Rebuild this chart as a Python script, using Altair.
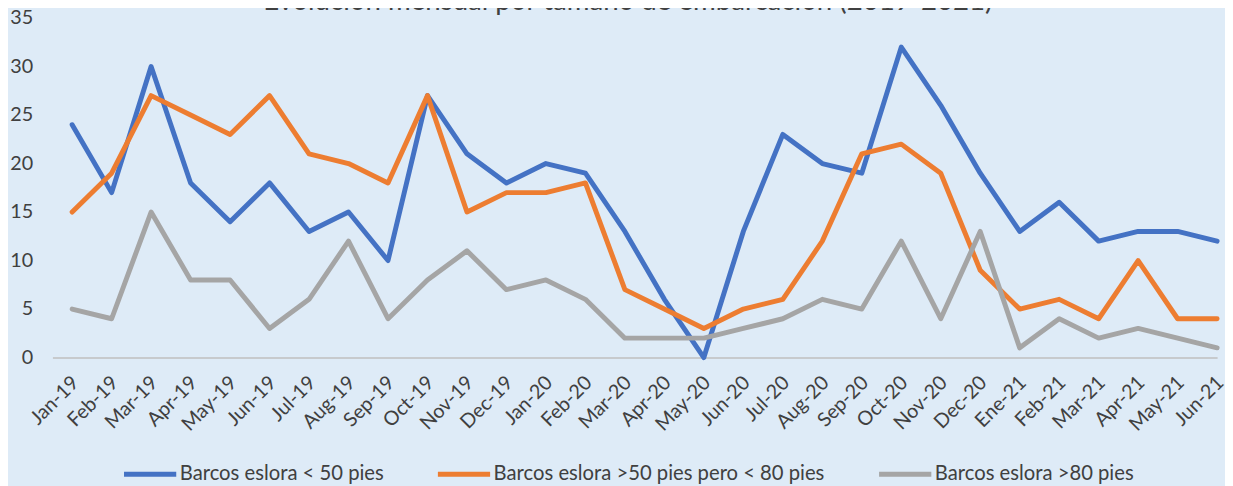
import altair as alt
import pandas as pd

months = ["Jan-19", "Feb-19", "Mar-19", "Apr-19", "May-19", "Jun-19", "Jul-19", "Aug-19",
          "Sep-19", "Oct-19", "Nov-19", "Dec-19", "Jan-20", "Feb-20", "Mar-20", "Apr-20",
          "May-20", "Jun-20", "Jul-20", "Aug-20", "Sep-20", "Oct-20", "Nov-20", "Dec-20",
          "Ene-21", "Feb-21", "Mar-21", "Apr-21", "May-21", "Jun-21"]
series_names = ["Barcos eslora < 50 pies",
                "Barcos eslora >50 pies pero < 80 pies",
                "Barcos eslora >80 pies"]
small = [24, 17, 30, 18, 14, 18, 13, 15, 10, 27, 21, 18, 20, 19, 13, 6, 0, 13, 23, 20,
         19, 32, 26, 19, 13, 16, 12, 13, 13, 12]
medium = [15, 19, 27, 25, 23, 27, 21, 20, 18, 27, 15, 17, 17, 18, 7, 5, 3, 5, 6, 12,
          21, 22, 19, 9, 5, 6, 4, 10, 4, 4]
large = [5, 4, 15, 8, 8, 3, 6, 12, 4, 8, 11, 7, 8, 6, 2, 2, 2, 3, 4, 6,
         5, 12, 4, 13, 1, 4, 2, 3, 2, 1]
colors = ["#4472C4", "#ED7D31", "#A5A5A5"]
y_ticks = [0, 5, 10, 15, 20, 25, 30, 35]
title_text = "Evolución mensual por tamaño de embarcación (2019-2021)"

rows = []
for name, vals in zip(series_names, [small, medium, large]):
    for i, (m, v) in enumerate(zip(months, vals)):
        rows.append({"serie": name, "idx": i, "mes": m, "valor": v})
df = pd.DataFrame(rows)
title_df = pd.DataFrame({"titulo": [title_text]})

label_expr = "[" + ",".join("'" + m + "'" for m in months) + "][datum.value]"
FONT = "Lato"
TXT = "#404040"

lines = alt.Chart(df).mark_line(strokeWidth=5, strokeJoin="round", strokeCap="round").encode(
    x=alt.X("idx:Q",
            scale=alt.Scale(domain=[-0.5, 29.0], nice=False, zero=False),
            axis=alt.Axis(values=list(range(len(months))), labelExpr=label_expr,
                          labelAngle=-45, title=None, grid=False, ticks=False,
                          labelOverlap=False, labelFlush=False, labelOffset=-4,
                          domainColor="#BFBFBF", domainWidth=1.5,
                          labelFontSize=20, labelFont=FONT, labelColor=TXT,
                          labelPadding=15)),
    y=alt.Y("valor:Q",
            scale=alt.Scale(domain=[0, 35], nice=False),
            axis=alt.Axis(values=y_ticks, title=None, grid=False, ticks=False,
                          domain=False, labelFontSize=20, labelFont=FONT,
                          labelColor=TXT, labelPadding=20)),
    color=alt.Color("serie:N",
                    scale=alt.Scale(domain=series_names, range=colors),
                    legend=alt.Legend(title=None, orient="none", legendX=70, legendY=433,
                                      direction="horizontal", symbolType="stroke",
                                      symbolSize=2800, symbolStrokeWidth=5,
                                      labelFontSize=20.5, labelFont=FONT, labelColor=TXT,
                                      labelLimit=600, columnPadding=44, labelOffset=1)),
)

title_mark = alt.Chart(title_df).mark_text(
    font=FONT, fontSize=28, color=TXT, align="center", baseline="alphabetic"
).encode(
    text="titulo:N",
    x=alt.value(583),
    y=alt.value(-8),
)

chart = alt.layer(lines, title_mark).properties(
    width=1180,
    height=344,
    autosize=alt.AutoSizeParams(type="none"),
    padding={"left": 45, "top": 7, "right": 8, "bottom": 127},
    background="#DEEBF7",
).configure_view(stroke=None)

chart.save("out.html", embed_options={"renderer": "svg", "actions": False})
